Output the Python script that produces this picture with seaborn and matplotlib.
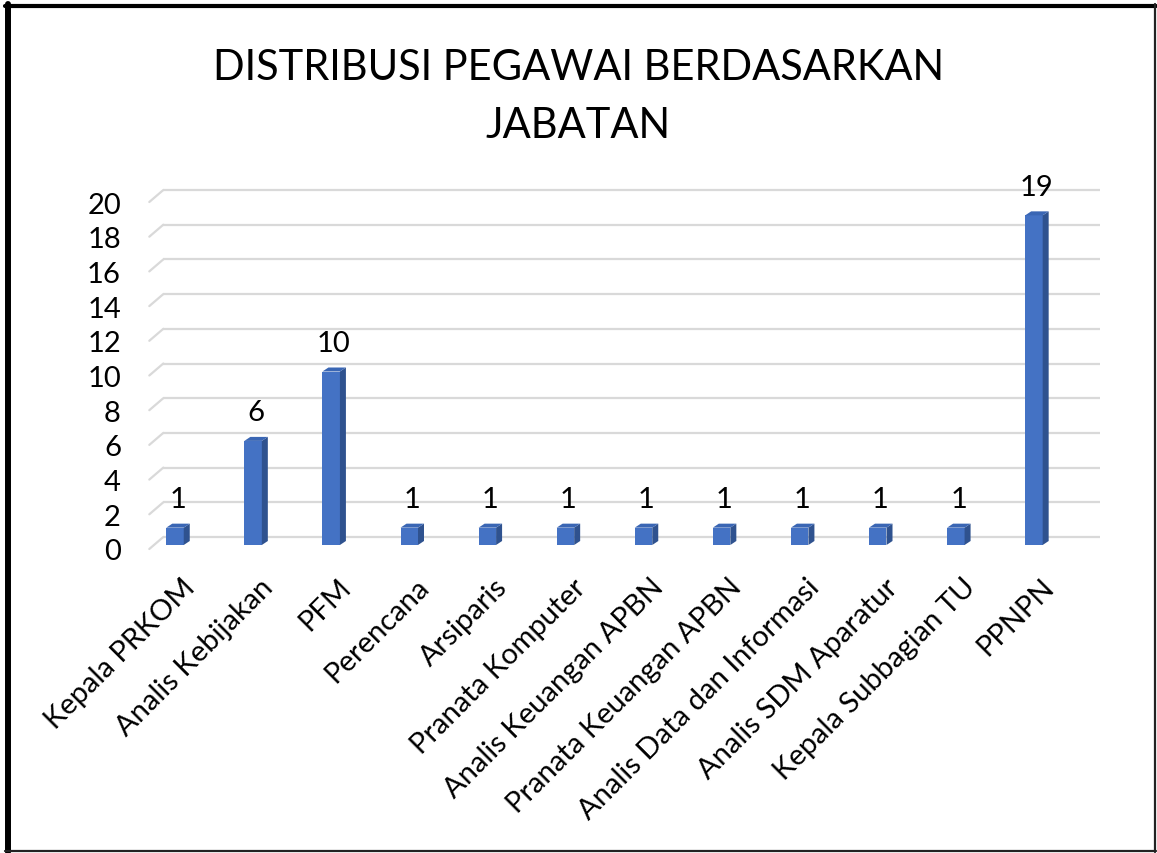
import matplotlib
matplotlib.use("Agg")
import matplotlib.pyplot as plt
from matplotlib.lines import Line2D
from matplotlib.patches import Polygon
from matplotlib.transforms import ScaledTranslation
import seaborn as sns


TITLE_LINES = ["DISTRIBUSI PEGAWAI BERDASARKAN", "JABATAN"]
jabatan = [
    "Kepala PRKOM",
    "Analis Kebijakan",
    "PFM",
    "Perencana",
    "Arsiparis",
    "Pranata Komputer",
    "Analis Keuangan APBN",
    "Pranata Keuangan APBN",
    "Analis Data dan Informasi",
    "Analis SDM Aparatur",
    "Kepala Subbagian TU",
    "PPNPN",
]
jumlah = [1, 6, 10, 1, 1, 1, 1, 1, 1, 1, 1, 19]
y_ticks = list(range(0, 21, 2))

FRONT = "#4472C4"
SIDE = "#2F528F"
TOP = "#3A66B4"
GRID = "#D9D9D9"

W, H, DPI = 1157, 854, 100


sns.set_theme(style="white")
plt.rcParams["font.family"] = ["Lato", "DejaVu Sans"]

fig = plt.figure(figsize=(W / DPI, H / DPI), dpi=DPI)
fig.patch.set_facecolor("white")

# axes = plane of the bar fronts (image px: x 154..1091, y 199..546)
ax = fig.add_axes([154 / W, 1 - 546 / H, 937 / W, 347 / H])
sns.barplot(x=jabatan, y=jumlah, color=FRONT, saturation=1, width=0.224,
            linewidth=0, ax=ax, zorder=3)
ax.set_xlim(-0.269, 11.731)
ax.set_ylim(0, 20)
ax.set_facecolor("none")
ax.grid(False)
for s in ax.spines.values():
    s.set_visible(False)
ax.set_xlabel("")
ax.set_ylabel("")

# pixels per data unit
sx = 937 / 12.0
sy = 347 / 20.0

# 3D-ish gridlines: back wall + slanted floor edge on the left
x0, x1 = ax.get_xlim()
front = (-4.7 / sx, -4 / sy)
back = (9.3 / sx, 8 / sy)
for v in y_ticks:
    ax.plot([x0 + back[0], x1 + back[0]], [v + back[1]] * 2, color=GRID,
            lw=1.6, clip_on=False, zorder=1, solid_capstyle="butt")
    ax.plot([x0 + front[0], x0 + back[0]], [v + front[1], v + back[1]],
            color=GRID, lw=1.6, clip_on=False, zorder=1)

# side and top faces of the bars
dx, dy = 6 / sx, 4 / sy
for bar in ax.patches:
    l = bar.get_x()
    r = l + bar.get_width()
    h = bar.get_height()
    ax.add_patch(Polygon([(r, 0), (r + dx, dy), (r + dx, h + dy), (r, h)],
                         closed=True, facecolor=SIDE, edgecolor="none",
                         zorder=3, clip_on=False))
    ax.add_patch(Polygon([(l, h), (r, h), (r + dx, h + dy), (l + dx, h + dy)],
                         closed=True, facecolor=TOP, edgecolor="none",
                         zorder=3, clip_on=False))

# value labels
for i, v in enumerate(jumlah):
    ax.annotate(str(v), (i, v), xytext=(2, 15), textcoords="offset points",
                ha="center", va="baseline", fontsize=21, color="black",
                annotation_clip=False)

# ticks
ax.tick_params(axis="both", length=0)
ax.tick_params(axis="y", pad=23.8, labelsize=21, labelcolor="black")
ax.tick_params(axis="x", pad=27, labelsize=21, labelcolor="black")
ax.set_yticks(y_ticks)
ax.set_yticklabels([str(t) for t in y_ticks])
ax.set_xticks(range(len(jabatan)))
ax.set_xticklabels(jabatan, rotation=45, ha="right", va="center",
                   rotation_mode="anchor")
for lab in ax.get_yticklabels():
    lab.set_transform(lab.get_transform()
                      + ScaledTranslation(0, -0.04, fig.dpi_scale_trans))
for lab in ax.get_xticklabels():
    lab.set_transform(lab.get_transform()
                      + ScaledTranslation(0.16, 0, fig.dpi_scale_trans))

# title
fig.text(0.5, 1 - 80 / H, TITLE_LINES[0], ha="center", va="baseline",
         fontsize=30, color="black")
fig.text(0.5, 1 - 138 / H, TITLE_LINES[1], ha="center", va="baseline",
         fontsize=30, color="black")

# frame of the screenshot
fig.add_artist(Line2D([8 / W, 8 / W], [1 - 5 / H, 1 - 853 / H], color="black",
                      lw=4.3, transform=fig.transFigure))
fig.add_artist(Line2D([5 / W, 1156 / W], [1 - 7 / H, 1 - 7 / H], color="black",
                      lw=3.0, transform=fig.transFigure))
fig.add_artist(Line2D([1155 / W, 1155 / W], [1 - 5 / H, 1 - 853 / H],
                      color="#222222", lw=1.6, transform=fig.transFigure))
fig.add_artist(Line2D([5 / W, 1156 / W], [1 - 852 / H, 1 - 852 / H],
                      color="#222222", lw=1.6, transform=fig.transFigure))

fig.savefig("out.png", dpi=DPI, facecolor="white")
